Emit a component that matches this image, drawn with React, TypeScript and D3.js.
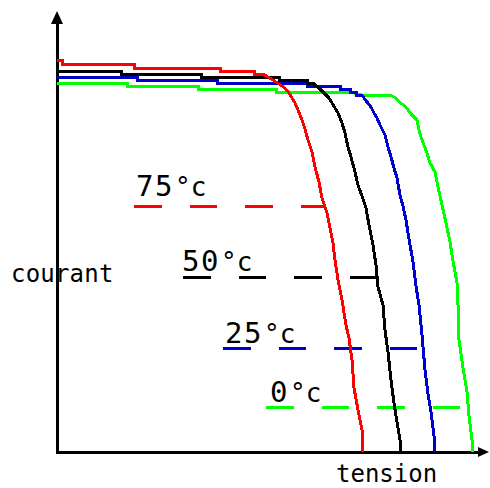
import { useMemo } from 'react';
import * as d3 from 'd3';

const WIDTH = 490;
const HEIGHT = 488;
const ORIGIN = { x: 57, y: 452 };

// tension / courant in the picture's own units, counted from the axes corner
const V_MAX = 431;
const I_MAX = 441;

const temperatures = ['75', '50', '25', '0'];
const curveColors = ['#ff0000', '#000000', '#0000cc', '#00ff00'];

const curve75: [number, number][] = [
    [0, 392], [5, 392], [5, 388], [77, 388], [77, 384], [163, 384], [163, 381], [197, 381], [197, 378], [206, 378],
    [211, 375], [216, 372], [225, 366], [229, 363], [232, 359], [235, 354], [238, 349], [241, 342], [245, 332], [248, 323],
    [251, 312], [255, 300], [258, 285], [262, 270], [265, 254], [270, 239], [273, 224], [276, 209], [278, 192], [281, 172],
    [285, 152], [289, 127], [292, 114], [295, 92], [297, 64], [301, 42], [305, 22], [306, 0],
];
const curve50: [number, number][] = [
    [0, 381], [64, 381], [64, 378], [144, 378], [144, 375], [222, 375], [222, 372], [250, 372], [250, 369], [256, 369],
    [259, 366], [263, 363], [266, 360], [269, 357], [272, 354], [275, 349], [278, 344], [281, 339], [285, 329], [288, 319],
    [291, 305], [294, 295], [298, 280], [301, 267], [305, 256], [309, 244], [312, 227], [316, 207], [319, 187], [321, 165],
    [326, 147], [328, 122], [331, 100], [334, 72], [337, 49], [340, 30], [343, 12], [343, 0],
];
const curve25: [number, number][] = [
    [0, 375], [80, 375], [80, 372], [160, 372], [160, 369], [250, 369], [250, 366], [283, 366], [283, 363], [293, 363],
    [293, 360], [299, 360], [299, 357], [305, 357], [307, 354], [310, 350], [314, 345], [317, 339], [320, 334], [323, 327],
    [328, 317], [331, 305], [334, 295], [337, 284], [340, 274], [343, 257], [346, 246], [349, 232], [352, 213], [356, 190],
    [359, 166], [362, 147], [365, 117], [368, 82], [371, 58], [374, 40], [377, 16], [377, 0],
];
const curve0: [number, number][] = [
    [0, 369], [70, 369], [70, 366], [141, 366], [141, 363], [219, 363], [219, 360], [293, 360], [305, 357], [333, 357],
    [339, 354], [342, 350], [348, 346], [351, 342], [355, 337], [360, 332], [362, 322], [364, 315], [367, 307], [370, 299],
    [373, 289], [378, 280], [381, 265], [385, 247], [389, 229], [393, 210], [396, 191], [400, 169], [401, 147], [402, 112],
    [406, 84], [410, 60], [412, 36], [415, 12], [415, 0],
];
const curves = [curve75, curve50, curve25, curve0];

// dashed marker of each curve: its courant level and the tension where it starts
const markerCurrent = [245.5, 175, 104, 45];
const markerStart = [77, 126, 166, 209];

// label placement relative to the start of its dashed line (px)
const LABEL_OFFSETS = [
    { dx: 2, dy: -10.5 },
    { dx: -1, dy: -6 },
    { dx: 2, dy: -5 },
    { dx: 4, dy: -5 },
];

const FONT = '"DejaVu Sans Mono", monospace';

// where the descending part of a curve crosses a given courant
const tensionAt = (pts: [number, number][], level: number) => {
    for (let k = 1; k < pts.length; k++) {
        const [v0, i0] = pts[k - 1];
        const [v1, i1] = pts[k];
        if (i0 >= level && i1 <= level && i0 !== i1) {
            return v0 + ((v1 - v0) * (i0 - level)) / (i0 - i1);
        }
    }
    return pts[pts.length - 1][0];
};

export default function App() {
    const xScale = useMemo(() => d3.scaleLinear().domain([0, V_MAX]).range([ORIGIN.x, ORIGIN.x + V_MAX]), []);
    const yScale = useMemo(() => d3.scaleLinear().domain([0, I_MAX]).range([ORIGIN.y, ORIGIN.y - I_MAX]), []);

    const line = d3
        .line<[number, number]>()
        .x((d) => xScale(d[0]))
        .y((d) => yScale(d[1]));

    const xEnd = xScale(V_MAX);
    const yEnd = yScale(I_MAX);

    // drawn back to front so the red curve ends up on top
    const order = [3, 2, 1, 0];

    return (
        <svg width={WIDTH} height={HEIGHT} style={{ position: 'absolute', left: 0, top: 0, background: '#fff' }}>
            {/* axes */}
            <g shapeRendering="crispEdges">
                <line x1={ORIGIN.x} y1={ORIGIN.y + 1.5} x2={ORIGIN.x} y2={yEnd + 12} stroke="#000" strokeWidth={3} />
                <line x1={ORIGIN.x - 1.5} y1={ORIGIN.y} x2={xEnd - 10} y2={ORIGIN.y} stroke="#000" strokeWidth={3} />
            </g>
            <path d={`M${ORIGIN.x},${yEnd} L${ORIGIN.x + 6},${yEnd + 13} L${ORIGIN.x - 6},${yEnd + 13} Z`} fill="#000" />
            <path d={`M${xEnd + 1},${ORIGIN.y} L${xEnd - 10},${ORIGIN.y - 5} L${xEnd - 10},${ORIGIN.y + 5} Z`} fill="#000" />

            {/* dashed markers */}
            {temperatures.map((t, k) => {
                const y = yScale(markerCurrent[k]);
                const x1 = xScale(markerStart[k]);
                const x2 = xScale(tensionAt(curves[k], markerCurrent[k])) + 1;
                return (
                    <line
                        key={'m' + t}
                        x1={x1}
                        x2={x2}
                        y1={y}
                        y2={y}
                        stroke={curveColors[k]}
                        strokeWidth={3}
                        strokeDasharray="27.5 28"
                        shapeRendering="crispEdges"
                    />
                );
            })}

            {/* curves */}
            {order.map((k) => (
                <path
                    key={'c' + temperatures[k]}
                    d={line(curves[k]) ?? ''}
                    fill="none"
                    stroke={curveColors[k]}
                    strokeWidth={3}
                    shapeRendering="crispEdges"
                />
            ))}

            {/* temperature labels */}
            {temperatures.map((t, k) => {
                const x = xScale(markerStart[k]) + LABEL_OFFSETS[k].dx;
                const y = yScale(markerCurrent[k]) + LABEL_OFFSETS[k].dy;
                return (
                    <g key={'l' + t} fontFamily={FONT} fill="#000">
                        <text x={x} y={y} fontSize={29} letterSpacing={1.5}>
                            {t}
                        </text>
                        <text x={x + 19 * t.length + 1} y={y} fontSize={26}>
                            °c
                        </text>
                    </g>
                );
            })}

            {/* axis titles */}
            <text x={11} y={282} fontFamily={FONT} fontSize={24} letterSpacing={0.2} fill="#000">
                courant
            </text>
            <text x={336} y={482} fontFamily={FONT} fontSize={24} fill="#000">
                tension
            </text>
        </svg>
    );
}
